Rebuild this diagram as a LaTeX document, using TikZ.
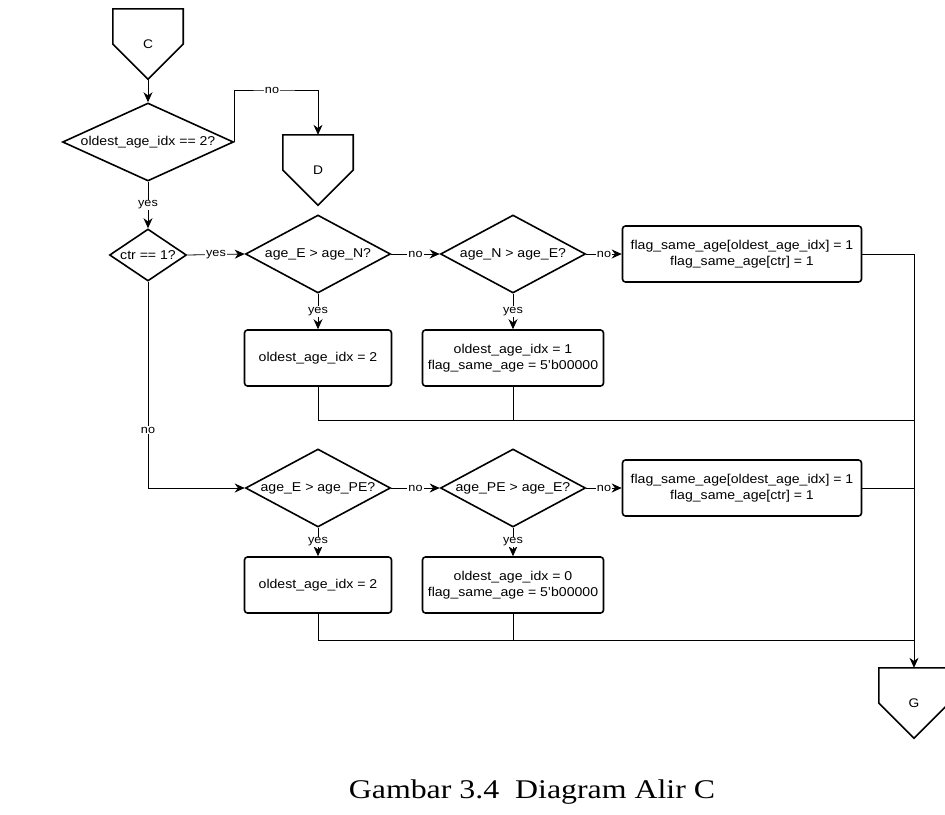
\documentclass[tikz,border=0pt]{standalone}
\usepackage{fontspec}
\setmainfont[FakeStretch=1.1]{Liberation Sans}
\newfontfamily\captionfont[FakeStretch=1.18]{Liberation Serif}
\usetikzlibrary{shapes, shapes.geometric, arrows.meta, positioning, calc}

\begin{document}
\begin{tikzpicture}[x=1pt, y=-1pt,
        decision/.style={diamond, draw=black, line width=1.6pt, inner sep=0pt, aspect=1.86, minimum width=145pt, minimum height=78pt, font=\fontsize{12.8}{15}\selectfont},
        procbox/.style={rectangle, rounded corners=3pt, draw=black, line width=1.6pt, align=center, minimum height=56pt, font=\fontsize{12.8}{15.5}\selectfont},
        offpage/.style={minimum width=70pt, minimum height=70pt, inner sep=0pt, font=\fontsize{12.5}{14}\selectfont},
        pentagon/.style={line width=1.6pt, line join=miter},
        flow/.style={line width=0.8pt, -{Stealth[length=10pt, width=9pt]}},
        joinline/.style={line width=0.8pt},
        edgelbl/.style={fill=white, inner sep=1pt, font=\fontsize{11.5}{13}\selectfont}
    ]
        \useasboundingbox (0,0) rectangle (945,814);

        % first check
        \node[offpage] (C) at (148,44) {C};
        \node[decision, aspect=2.19, minimum width=171pt] (q1) at (148,142) {oldest\_age\_idx == 2?};
        \node[offpage] (D) at (318,170) {D};
        \node[decision, aspect=1.48, minimum width=77pt, minimum height=52pt] (q2) at (148,255) {ctr == 1?};
        \coordinate (noturn) at (272,90);

        % ctr == 1
        \node[decision] (q3) at (318,254) {age\_E > age\_N?};
        \node[decision] (q4) at (513,254) {age\_N > age\_E?};
        \node[procbox, minimum width=239pt] (b5) at (742,254) {flag\_same\_age[oldest\_age\_idx] = 1\\flag\_same\_age[ctr] = 1};
        \node[procbox, minimum width=147pt] (b3) at (318,358) {oldest\_age\_idx = 2};
        \node[procbox, minimum width=181pt] (b4) at (513,358) {oldest\_age\_idx = 1\\flag\_same\_age = 5'b00000};
        \coordinate (m1) at (915,420);

        % ctr != 1
        \node[decision] (q6) at (318,488) {age\_E > age\_PE?};
        \node[decision] (q7) at (513,488) {age\_PE > age\_E?};
        \node[procbox, minimum width=239pt] (b8) at (742,488) {flag\_same\_age[oldest\_age\_idx] = 1\\flag\_same\_age[ctr] = 1};
        \node[procbox, minimum width=147pt] (b6) at (318,585) {oldest\_age\_idx = 2};
        \node[procbox, minimum width=181pt] (b7) at (513,585) {oldest\_age\_idx = 0\\flag\_same\_age = 5'b00000};
        \coordinate (m2) at (915,640);

        \node[offpage] (G) at (914,703) {G};

        \foreach \n in {C, D, G}
            \draw[pentagon] (\n.north west) -- (\n.north east) -- (\n.east) -- (\n.south) -- (\n.west) -- cycle;

        \draw[flow] (C.south) -- (q1.north);
        \draw[flow] (q1.east) |- (noturn) node[edgelbl] (l1) {no} -| (D.north);
        \draw[flow] (q1.south) -- node[edgelbl] (l2) {yes} (q2.north);
        \draw[flow] (q2.east) -- node[edgelbl] (l3) {yes} (q3.west);
        \draw[flow] (q3.east) -- node[edgelbl] (l4) {no} (q4.west);
        \draw[flow] (q4.east) -- node[edgelbl] (l5) {no} (b5.west);
        \draw[flow] (q3.south) -- node[edgelbl] (l6) {yes} (b3.north);
        \draw[flow] (q4.south) -- node[edgelbl] (l7) {yes} (b4.north);

        \draw[flow] (q2.south) |- node[edgelbl, pos=0.36] (l8) {no} (q6.west);
        \draw[flow] (q6.east) -- node[edgelbl] (l9) {no} (q7.west);
        \draw[flow] (q7.east) -- node[edgelbl] (l10) {no} (b8.west);
        \draw[flow] (q6.south) -- node[edgelbl] (l11) {yes} (b6.north);
        \draw[flow] (q7.south) -- node[edgelbl] (l12) {yes} (b7.north);

        % merge into G
        \draw[joinline] (b3.south) |- (m1);
        \draw[joinline] (b4.south) -- (b4.south |- m1);
        \draw[joinline] (b6.south) |- (m2);
        \draw[joinline] (b7.south) -- (b7.south |- m2);
        \draw[joinline] (b8.east) -- (b8.east -| m2);
        \draw[flow] (b5.east) -| (G.north);

        \node[font=\captionfont\fontsize{27}{30}\selectfont] (caption) at (532,792) {Gambar 3.4\ \ Diagram Alir C};
    \end{tikzpicture}
\end{document}
